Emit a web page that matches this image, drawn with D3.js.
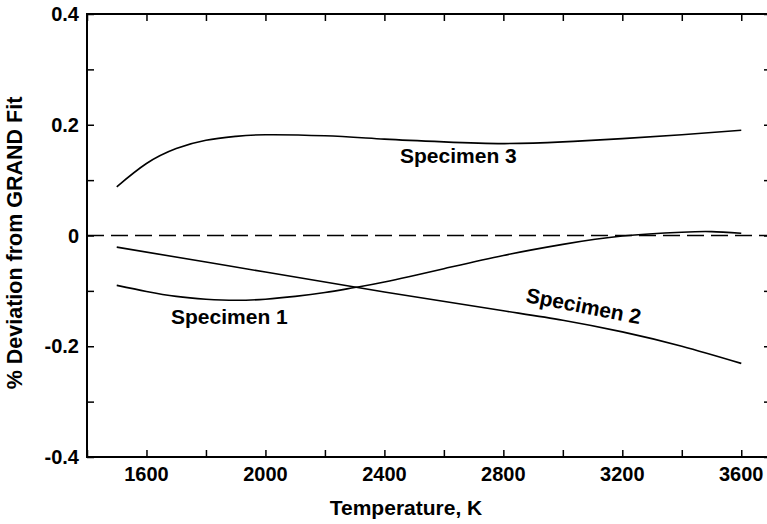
<!DOCTYPE html>
<html>
<head>
<meta charset="utf-8">
<script src="https://cdn.jsdelivr.net/npm/d3@7"></script>
<style>
  html, body { margin: 0; padding: 0; background: #fff; }
  svg { display: block; }
  text { font-family: "Liberation Sans", Arial, Helvetica, sans-serif; font-weight: bold; fill: #000; }
</style>
</head>
<body>
<svg id="chart" width="767" height="524"></svg>
<script>
// ---- Data ----
const temps1 = [1500, 1600, 1700, 1800, 1900, 2000, 2100, 2200, 2300, 2400, 2600, 2800, 3000, 3200, 3400, 3500, 3600];
const specimen1 = [-0.090, -0.101, -0.110, -0.115, -0.117, -0.115, -0.110, -0.103, -0.094, -0.084, -0.060, -0.036, -0.016, -0.001, 0.006, 0.007, 0.004];

const temps2 = [1500, 1800, 2000, 2400, 2800, 3000, 3200, 3400, 3600];
const specimen2 = [-0.021, -0.048, -0.066, -0.102, -0.136, -0.153, -0.174, -0.200, -0.231];

const temps3 = [1500, 1600, 1700, 1800, 1900, 2000, 2200, 2400, 2600, 2800, 3000, 3200, 3400, 3600];
const specimen3 = [0.088, 0.130, 0.157, 0.172, 0.179, 0.182, 0.180, 0.174, 0.169, 0.166, 0.169, 0.175, 0.182, 0.190];

const xTickValues = [1400, 1600, 1800, 2000, 2200, 2400, 2600, 2800, 3000, 3200, 3400, 3600];
const xTickLabels = [1600, 2000, 2400, 2800, 3200, 3600];
const yTickValues = [-0.4, -0.3, -0.2, -0.1, 0, 0.1, 0.2, 0.3, 0.4];
const yTickLabels = ["-0.4", "-0.2", "0", "0.2", "0.4"];
const yLabelValues = [-0.4, -0.2, 0, 0.2, 0.4];

const seriesLabels = ["Specimen 1", "Specimen 2", "Specimen 3"];
const xTitle = "Temperature, K";
const yTitle = "% Deviation from GRAND Fit";

(function () {
const svg = d3.select("#chart");
const x = d3.scaleLinear().domain([1400, 3700]).range([87, 771]);
const y = d3.scaleLinear().domain([-0.4, 0.4]).range([457, 14]);

const pL = x.range()[0], pR = x.range()[1], pT = y.range()[1], pB = y.range()[0];
svg.append("rect")
  .attr("x", pL).attr("y", pT)
  .attr("width", pR - pL).attr("height", pB - pT)
  .attr("fill", "none").attr("stroke", "#000").attr("stroke-width", 2);

const tickLen = 7;
const fmtNone = () => "";
svg.append("g").attr("transform", `translate(0,${pB})`)
  .call(d3.axisTop(x).tickValues(xTickValues).tickSize(tickLen).tickFormat(fmtNone))
  .call(g => g.select(".domain").remove())
  .selectAll("line").attr("stroke", "#000").attr("stroke-width", 1.5);
svg.append("g").attr("transform", `translate(0,${pT})`)
  .call(d3.axisBottom(x).tickValues(xTickValues).tickSize(tickLen).tickFormat(fmtNone))
  .call(g => g.select(".domain").remove())
  .selectAll("line").attr("stroke", "#000").attr("stroke-width", 1.5);
svg.append("g").attr("transform", `translate(${pL},0)`)
  .call(d3.axisRight(y).tickValues(yTickValues).tickSize(tickLen).tickFormat(fmtNone))
  .call(g => g.select(".domain").remove())
  .selectAll("line").attr("stroke", "#000").attr("stroke-width", 1.5);
svg.append("g").attr("transform", `translate(${pR},0)`)
  .call(d3.axisLeft(y).tickValues(yTickValues).tickSize(tickLen).tickFormat(fmtNone))
  .call(g => g.select(".domain").remove())
  .selectAll("line").attr("stroke", "#000").attr("stroke-width", 1.5);

svg.append("g").selectAll("text").data(xTickLabels).join("text")
  .attr("x", d => x(d)).attr("y", 481)
  .attr("text-anchor", "middle").style("font-size", "20px")
  .text(d => d);
svg.append("g").selectAll("text").data(yLabelValues).join("text")
  .attr("x", 79).attr("y", d => y(d)).attr("dy", "0.36em")
  .attr("text-anchor", "end").style("font-size", "20px")
  .text((d, i) => yTickLabels[i]);

svg.append("text").attr("x", 406).attr("y", 515)
  .attr("text-anchor", "middle").style("font-size", "21px").text(xTitle);
svg.append("text").attr("transform", "translate(22,243) rotate(-90)")
  .attr("text-anchor", "middle").style("font-size", "21.5px").text(yTitle);

svg.append("line")
  .attr("x1", pL).attr("x2", pR)
  .attr("y1", y(0)).attr("y2", y(0))
  .attr("stroke", "#000").attr("stroke-width", 1.6)
  .attr("stroke-dasharray", "17,7");

const line = d3.line().curve(d3.curveNatural).x(d => x(d[0])).y(d => y(d[1]));
const series = [
  temps1.map((t, i) => [t, specimen1[i]]),
  temps2.map((t, i) => [t, specimen2[i]]),
  temps3.map((t, i) => [t, specimen3[i]])
];
svg.append("g").selectAll("path").data(series).join("path")
  .attr("d", line).attr("fill", "none")
  .attr("stroke", "#000").attr("stroke-width", 1.6);

svg.append("text").attr("x", 171).attr("y", 324).style("font-size", "21px").text(seriesLabels[0]);
svg.append("text").attr("transform", "translate(525,302) rotate(11)").style("font-size", "21px").text(seriesLabels[1]);
svg.append("text").attr("x", 400).attr("y", 163).style("font-size", "21px").text(seriesLabels[2]);
})();
</script>
</body>
</html>
